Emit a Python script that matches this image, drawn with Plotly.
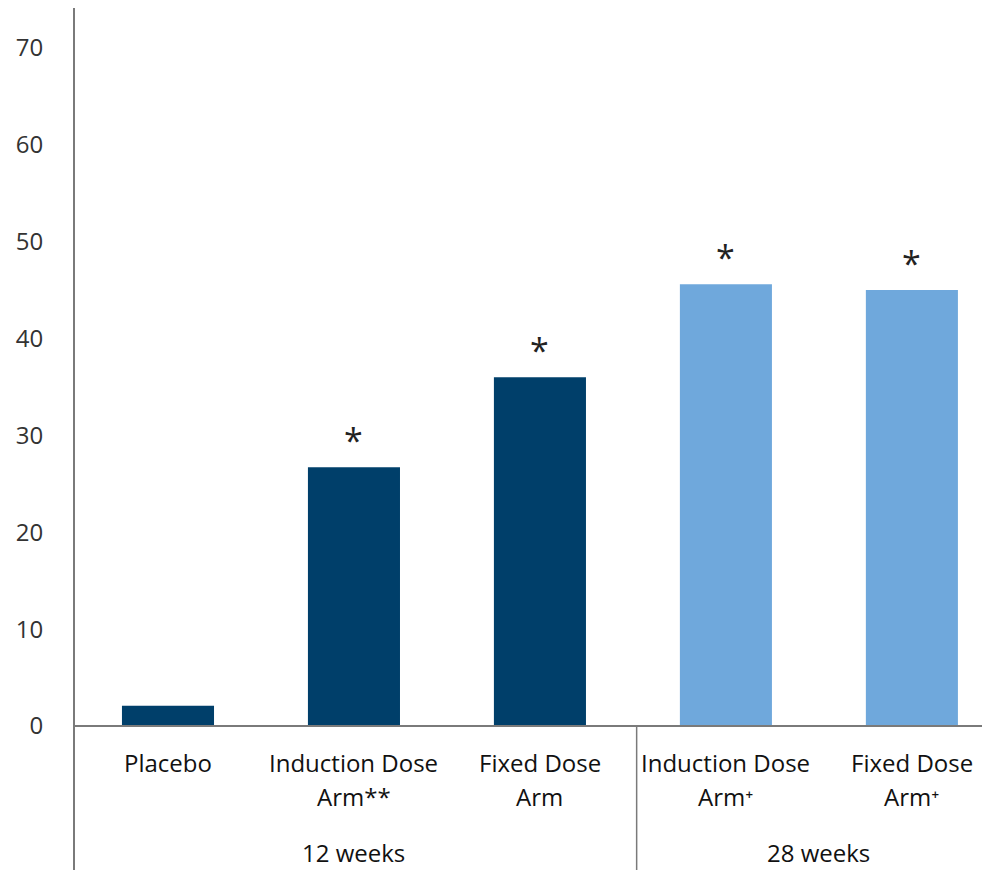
import plotly.graph_objects as go

categories = ["Placebo", "Induction Dose<br>Arm**", "Fixed Dose<br>Arm", "Induction Dose<br>Arm⁺", "Fixed Dose<br>Arm⁺"]
values = [2.1, 26.7, 36.0, 45.6, 45.0]
significance = ["", "*", "*", "*", "*"]
groups = ["12 weeks", "28 weeks"]
group_centers = [1.0, 3.5]
tick_vals = [0, 10, 20, 30, 40, 50, 60, 70]

dark = "#003F6A"
light = "#6FA8DC"
colors = [dark, dark, dark, light, light]

x = list(range(len(categories)))
fig = go.Figure()
fig.add_trace(go.Bar(x=x, y=values, marker=dict(color=colors, line=dict(width=0)), width=0.495,
                     hoverinfo="skip"))

font = "Open Sans, DejaVu Sans, sans-serif"
for xi, (c, s, v) in enumerate(zip(categories, significance, values)):
    for li, line in enumerate(c.split("<br>")):
        fig.add_annotation(x=xi, y=-3.8, text=line, showarrow=False, yanchor="middle",
                           yshift=-34 * li, xref="x", yref="y",
                           font=dict(family=font, size=24, color="#111"))
    if s:
        fig.add_annotation(x=xi, y=v, text=s, showarrow=False, yanchor="bottom", yshift=2,
                           font=dict(family=font, size=34, color="#222"))
for g, gc in zip(groups, group_centers):
    fig.add_annotation(x=gc, y=-13.1, text=g, showarrow=False, yanchor="middle",
                       font=dict(family=font, size=24, color="#111"))

# zero line and separator
fig.add_shape(type="line", xref="paper", yref="y", x0=0, x1=1, y0=0, y1=0,
              line=dict(color="#7a7a7a", width=2))
fig.add_shape(type="line", xref="x", yref="y", x0=2.52, x1=2.52, y0=0, y1=-15,
              line=dict(color="#7a7a7a", width=1.5))

fig.update_layout(
    width=982, height=862,
    margin=dict(l=67, r=0, t=0, b=0, autoexpand=False),
    plot_bgcolor="white", paper_bgcolor="white",
    showlegend=False,
    bargap=0.5,
    xaxis=dict(range=[-0.5, 4.42], showticklabels=False, showgrid=False, zeroline=False,
               showline=False, fixedrange=True, automargin=False),
    yaxis=dict(range=[-14.86, 74.1], tickvals=tick_vals, ticktext=[str(t) for t in tick_vals],
               showgrid=False, zeroline=False, showline=True, linecolor="#7a7a7a", linewidth=2,
               ticks="", ticklabelstandoff=25, automargin=False,
               tickfont=dict(family=font, size=24, color="#333")),
)
fig.write_html("out.html")
